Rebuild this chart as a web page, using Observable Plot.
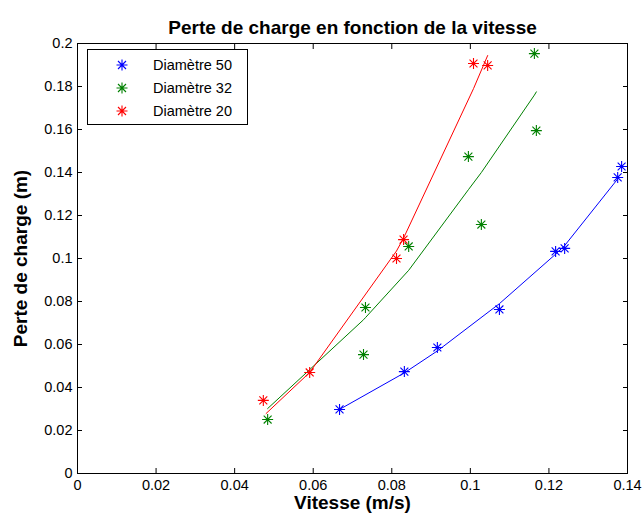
<!DOCTYPE html>
<html>
<head>
<meta charset="utf-8">
<script src="https://cdn.jsdelivr.net/npm/d3@7"></script>
<script src="https://cdn.jsdelivr.net/npm/@observablehq/plot@0.6"></script>
<style>
  html, body { margin: 0; padding: 0; background: #fff; }
  #wrap { position: relative; width: 642px; height: 519px; font-family: "Liberation Sans", Arial, sans-serif; }
  #legend { position: absolute; left: 87px; top: 49px; width: 161px; height: 76px; border: 1px solid #000; background: #fff; box-sizing: border-box; }
  .row { position: absolute; left: 0; height: 20px; display: flex; align-items: center; font-size: 14.5px; color: #000; }
  .row svg { margin-left: 28px; margin-right: 25px; }
</style>
</head>
<body>
<div id="wrap"></div>
<script>
// ---- data ----
const title = "Perte de charge en fonction de la vitesse";
const xLabel = "Vitesse (m/s)";
const yLabel = "Perte de charge (m)";
const seriesNames = ["Diamètre 50", "Diamètre 32", "Diamètre 20"];
const seriesColors = ["#0000ff", "#008000", "#ff0000"];

const xTicks = [0, 0.02, 0.04, 0.06, 0.08, 0.1, 0.12, 0.14];
const xTickLabels = ["0", "0.02", "0.04", "0.06", "0.08", "0.1", "0.12", "0.14"];
const yTicks = [0, 0.02, 0.04, 0.06, 0.08, 0.1, 0.12, 0.14, 0.16, 0.18, 0.2];
const yTickLabels = ["0", "0.02", "0.04", "0.06", "0.08", "0.1", "0.12", "0.14", "0.16", "0.18", "0.2"];

// measured points
const blueX = [0.0667, 0.0832, 0.0916, 0.1074, 0.1217, 0.1240, 0.1375, 0.1385];
const blueY = [0.0298, 0.0474, 0.0586, 0.0763, 0.1033, 0.1047, 0.1377, 0.1428];
const greenX = [0.0484, 0.0728, 0.0733, 0.0843, 0.0995, 0.1028, 0.1163, 0.1168];
const greenY = [0.0251, 0.0553, 0.0772, 0.1056, 0.1474, 0.1158, 0.1953, 0.1595];
const redX = [0.0473, 0.0591, 0.0812, 0.0830, 0.1008, 0.1044];
const redY = [0.0340, 0.0470, 0.1000, 0.1088, 0.1907, 0.1898];

// fitted curves
const blueFitX = [0.0667, 0.0832, 0.0916, 0.1074, 0.1217, 0.1240, 0.1375];
const blueFitY = [0.0298, 0.0468, 0.0570, 0.0790, 0.1020, 0.1060, 0.1370];
const greenFitX = [0.0484, 0.0728, 0.0733, 0.0843, 0.0995, 0.1028, 0.1163, 0.1168];
const greenFitY = [0.0302, 0.0715, 0.0725, 0.0945, 0.1320, 0.1400, 0.1760, 0.1775];
const redFitX = [0.0480, 0.0591, 0.0812, 0.0830, 0.1008, 0.1044];
const redFitY = [0.0279, 0.0470, 0.1035, 0.1095, 0.1790, 0.1944];

// ---- build tables ----
const pts = [
  ...blueX.map((x, i) => ({x, y: blueY[i], s: seriesNames[0]})),
  ...greenX.map((x, i) => ({x, y: greenY[i], s: seriesNames[1]})),
  ...redX.map((x, i) => ({x, y: redY[i], s: seriesNames[2]}))
];
const fits = [
  ...blueFitX.map((x, i) => ({x, y: blueFitY[i], s: seriesNames[0]})),
  ...greenFitX.map((x, i) => ({x, y: greenFitY[i], s: seriesNames[1]})),
  ...redFitX.map((x, i) => ({x, y: redFitY[i], s: seriesNames[2]}))
];

// MATLAB-style "*" marker: plus + x
const star = {
  draw(ctx, size) {
    const r = Math.sqrt(size / Math.PI);
    const d = r * 0.72;
    ctx.moveTo(0, -r); ctx.lineTo(0, r);
    ctx.moveTo(-r, 0); ctx.lineTo(r, 0);
    ctx.moveTo(-d, -d); ctx.lineTo(d, d);
    ctx.moveTo(-d, d); ctx.lineTo(d, -d);
  }
};
const fmtX = d => xTickLabels[xTicks.indexOf(d)];
const fmtY = d => yTickLabels[yTicks.indexOf(d)];

const chart = Plot.plot({
  width: 642,
  height: 519,
  marginTop: 43,
  marginLeft: 77,
  marginRight: 15,
  marginBottom: 46,
  style: {fontFamily: "'Liberation Sans', Arial, sans-serif", fontSize: "14px", background: "#fff", color: "#000"},
  x: {domain: [0, 0.14]},
  y: {domain: [0, 0.2]},
  color: {domain: seriesNames, range: seriesColors},
  marks: [
    Plot.line(fits, {x: "x", y: "y", z: "s", stroke: "s", strokeWidth: 1}),
    Plot.dot(pts, {x: "x", y: "y", stroke: "s", symbol: star, r: 5.5, strokeWidth: 1.1, fill: "none"}),
    Plot.frame({stroke: "#000", strokeWidth: 1}),
    Plot.axisX(xTicks, {anchor: "bottom", tickSize: -5, text: null, label: null}),
    Plot.axisX(xTicks, {anchor: "top", tickSize: -5, text: null, label: null}),
    Plot.axisY(yTicks, {anchor: "left", tickSize: -5, text: null, label: null}),
    Plot.axisY(yTicks, {anchor: "right", tickSize: -5, text: null, label: null}),
    Plot.axisX(xTicks, {anchor: "bottom", tickSize: 0, tickPadding: 6, tickFormat: fmtX, label: null, fontSize: 14.5}),
    Plot.axisY(yTicks, {anchor: "left", tickSize: 0, tickPadding: 5, tickFormat: fmtY, label: null, fontSize: 14.5}),
    Plot.text([title], {frameAnchor: "top", dy: -23, fontSize: 19, fontWeight: "bold"}),
    Plot.text([xLabel], {frameAnchor: "bottom", dy: 35, fontSize: 19, fontWeight: "bold"}),
    Plot.text([yLabel], {frameAnchor: "left", textAnchor: "middle", dx: -57, rotate: -90, fontSize: 19, fontWeight: "bold"})
  ]
});

const wrap = document.getElementById("wrap");
wrap.appendChild(chart);

// legend
const legend = document.createElement("div");
legend.id = "legend";
seriesNames.forEach((name, i) => {
  const row = document.createElement("div");
  row.className = "row";
  row.style.top = (5 + i * 23) + "px";
  const c = seriesColors[i];
  row.innerHTML = `<svg width="12" height="12" viewBox="-6 -6 12 12"><path d="M0,-5.5V5.5M-5.5,0H5.5M-4,-4L4,4M-4,4L4,-4" stroke="${c}" stroke-width="1.1" fill="none"/></svg><span>${name}</span>`;
  legend.appendChild(row);
});
wrap.appendChild(legend);
</script>
</body>
</html>
